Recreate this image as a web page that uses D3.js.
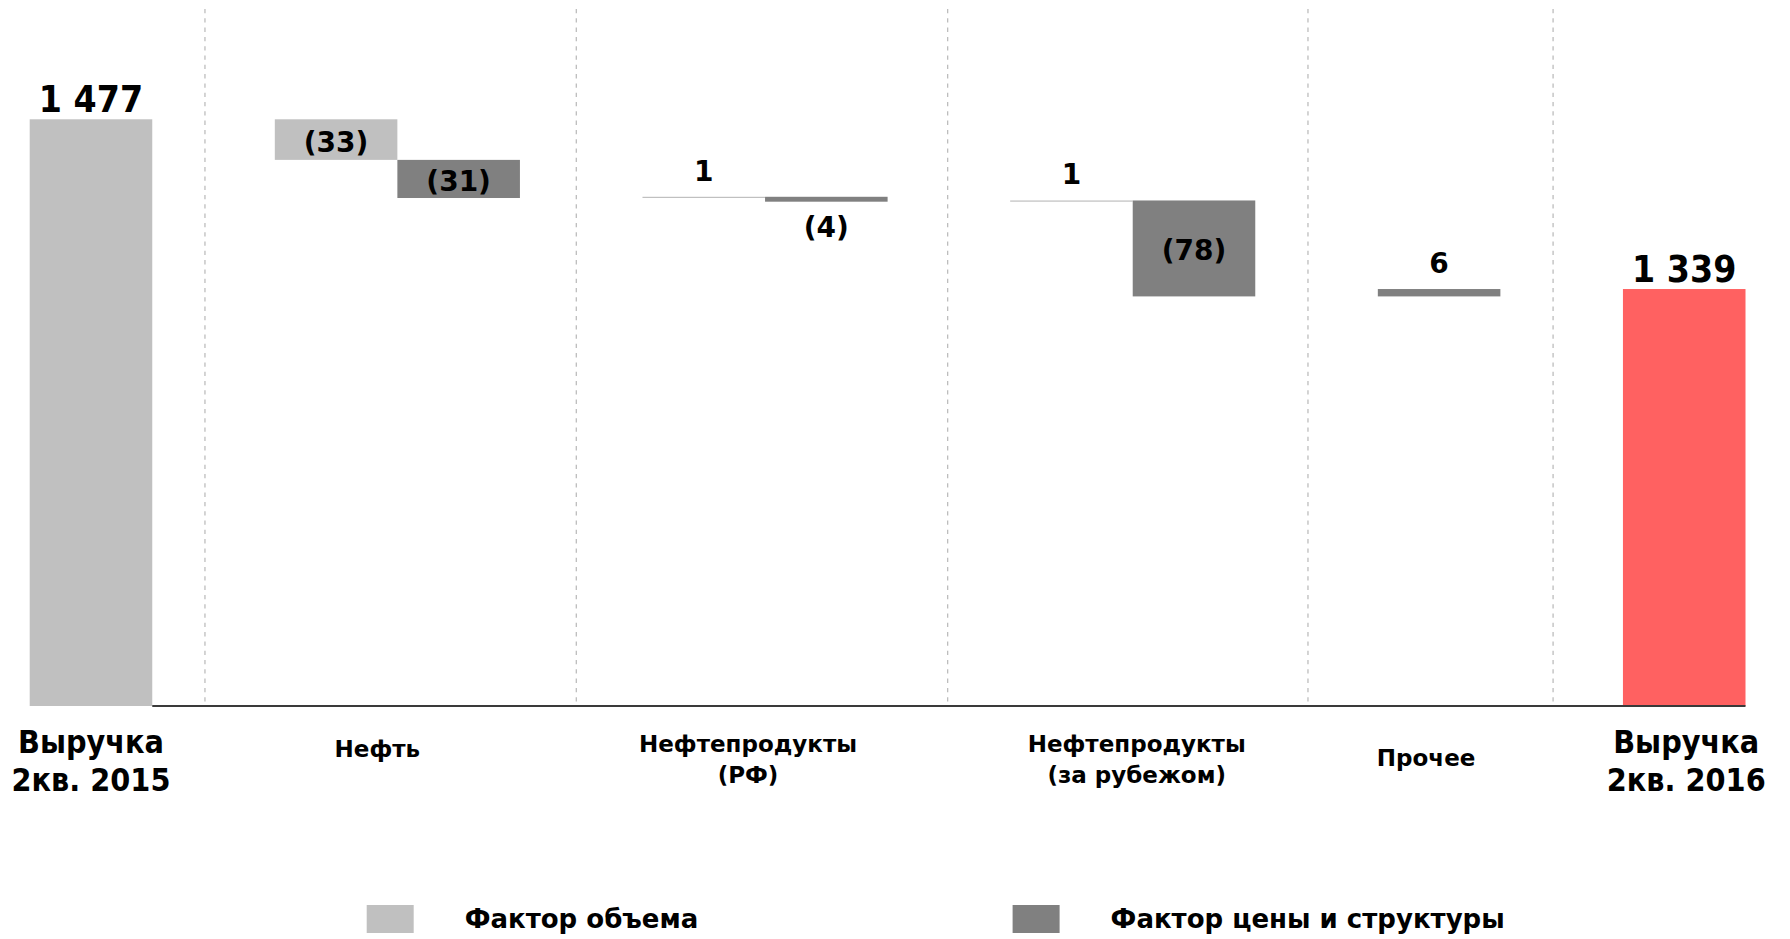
<!DOCTYPE html>
<html>
<head>
<meta charset="utf-8">
<script src="https://cdn.jsdelivr.net/npm/d3@7/dist/d3.min.js"></script>
<style>
  html, body { margin: 0; padding: 0; background: #ffffff; }
  svg { display: block; }
  text { font-family: "DejaVu Sans", Verdana, sans-serif; font-weight: bold; fill: #000; }
  .cond { font-family: "DejaVu Sans Condensed", "DejaVu Sans", sans-serif; font-stretch: condensed; }
</style>
</head>
<body>
<svg id="chart" width="1790" height="939"></svg>
<script>
// ---------------- data ----------------
const startLabel = ["Выручка", "2кв. 2015"];
const endLabel = ["Выручка", "2кв. 2016"];
const startValue = 1477;
const endValue = 1339;
const factorCategories = [["Нефть"], ["Нефтепродукты", "(РФ)"], ["Нефтепродукты", "(за рубежом)"]];
const volumeFactor = [-33, 1, 1];
const priceFactor = [-31, -4, -78];
const otherCategory = ["Прочее"];
const otherValue = 6;
const legendLabels = ["Фактор объема", "Фактор цены и структуры"];
const yDomain = [1000, 1500];

// ---------------- styles / layout tweaks ----------------
const colVolume = "#c0c0c0";
const colPrice = "#808080";
const colTotal0 = "#c0c0c0";
const colTotal1 = "#ff6161";
const labelNudge = [0, -20, -17, 4, -13, 2]; // px shift of category text boxes
const sepNudge = [-0.02, 0.01, 0.04, -0.02, -0.02];

// ---------------- build waterfall ----------------
const slots = [];
const bars = [];
const groups = [];
let running = startValue;
slots.push("s0");
bars.push({slot: "s0", y0: yDomain[0], y1: startValue, color: colTotal0, v: startValue, kind: "total"});
groups.push({lines: startLabel, slots: ["s0"], big: true});
factorCategories.forEach((cat, i) => {
  slots.push("g" + i);
  const sv = "v" + i, sp = "p" + i;
  slots.push(sv, sp);
  const a = running, b = running + volumeFactor[i];
  bars.push({slot: sv, y0: a, y1: b, color: colVolume, v: volumeFactor[i], kind: "delta"});
  const c = b + priceFactor[i];
  bars.push({slot: sp, y0: b, y1: c, color: colPrice, v: priceFactor[i], kind: "delta"});
  running = c;
  groups.push({lines: cat, slots: [sv, sp], big: false});
});
slots.push("go");
slots.push("o");
bars.push({slot: "o", y0: running, y1: running + otherValue, color: colPrice, v: otherValue, kind: "delta"});
running += otherValue;
groups.push({lines: otherCategory, slots: ["o"], big: false});
slots.push("ge");
slots.push("e");
bars.push({slot: "e", y0: yDomain[0], y1: endValue, color: colTotal1, v: endValue, kind: "total"});
groups.push({lines: endLabel, slots: ["e"], big: true});
const separators = slots.filter(s => s[0] === "g");

// ---------------- scales ----------------
const svg = d3.select("#chart");
const x = d3.scaleBand().domain(slots).range([29.7, 1745.5]).padding(0);
const y = d3.scaleLinear().domain(yDomain).range([706, 91]);
const bw = x.bandwidth();

// separators
svg.append("g").selectAll("line").data(separators).join("line")
  .attr("x1", (d, i) => x(d) + bw * (0.45 + sepNudge[i]))
  .attr("x2", (d, i) => x(d) + bw * (0.45 + sepNudge[i]))
  .attr("y1", 9).attr("y2", y(yDomain[0]))
  .attr("stroke", "#bdbdbd").attr("stroke-width", 1.3)
  .attr("stroke-dasharray", "4.3,5");

// bars
svg.append("g").selectAll("rect").data(bars).join("rect")
  .attr("x", d => x(d.slot))
  .attr("width", bw)
  .attr("y", d => y(Math.max(d.y0, d.y1)))
  .attr("height", d => Math.max(1.2, Math.abs(y(d.y0) - y(d.y1))))
  .attr("fill", d => d.color);

// axis baseline
const axisG = svg.append("g").attr("transform", `translate(0,${y(yDomain[0])})`);
axisG.call(d3.axisBottom(x).tickSize(0).tickFormat(""));
axisG.select(".domain").attr("stroke", "#3a3a3a").attr("stroke-width", 2)
  .attr("d", `M${x("s0") + bw},0H${x("e") + bw}`);

// value labels
const fmt = v => {
  const s = d3.format(",")(Math.abs(v)).replace(/,/g, " ");
  return v < 0 ? "(" + s + ")" : s;
};
svg.append("g").selectAll("text").data(bars).join("text")
  .attr("class", d => d.kind === "total" ? "cond" : null)
  .attr("text-anchor", "middle")
  .attr("font-size", d => d.kind === "total" ? 37 : 28)
  .attr("x", d => x(d.slot) + bw / 2)
  .attr("y", d => {
    const top = y(Math.max(d.y0, d.y1)), bot = y(Math.min(d.y0, d.y1));
    if (d.kind === "total") return top - 7;
    const h = bot - top;
    if (h > 30) return (top + bot) / 2 + 12;
    if (d.v < 0) return bot + 35;
    return top - 16;
  })
  .text(d => fmt(d.v));

// category labels
const cat = svg.append("g");
groups.forEach((g, gi) => {
  const cx = d3.mean(g.slots, s => x(s) + bw / 2) + labelNudge[gi];
  const fs = g.big ? 32 : 23;
  const lh = g.big ? 38 : 31;
  const t = cat.append("text")
    .attr("class", g.big ? "cond" : null)
    .attr("text-anchor", "middle")
    .attr("font-size", fs);
  let baseY;
  if (g.big) baseY = 753;
  else if (g.lines.length > 1) baseY = 752;
  else baseY = gi === 1 ? 757 : 766;
  g.lines.forEach((ln, i) => {
    t.append("tspan").attr("x", cx).attr("y", baseY + i * lh).text(ln);
  });
});

// legend
const legendX = [366.7, 1012.6];
const legendColors = [colVolume, colPrice];
const lg = svg.append("g").selectAll("g").data(legendLabels).join("g")
  .attr("transform", (d, i) => `translate(${legendX[i]},905)`);
lg.append("rect").attr("width", 47).attr("height", 28).attr("fill", (d, i) => legendColors[i]);
lg.append("text").attr("x", 98).attr("y", 23).attr("font-size", 26).text(d => d);
</script>
</body>
</html>
